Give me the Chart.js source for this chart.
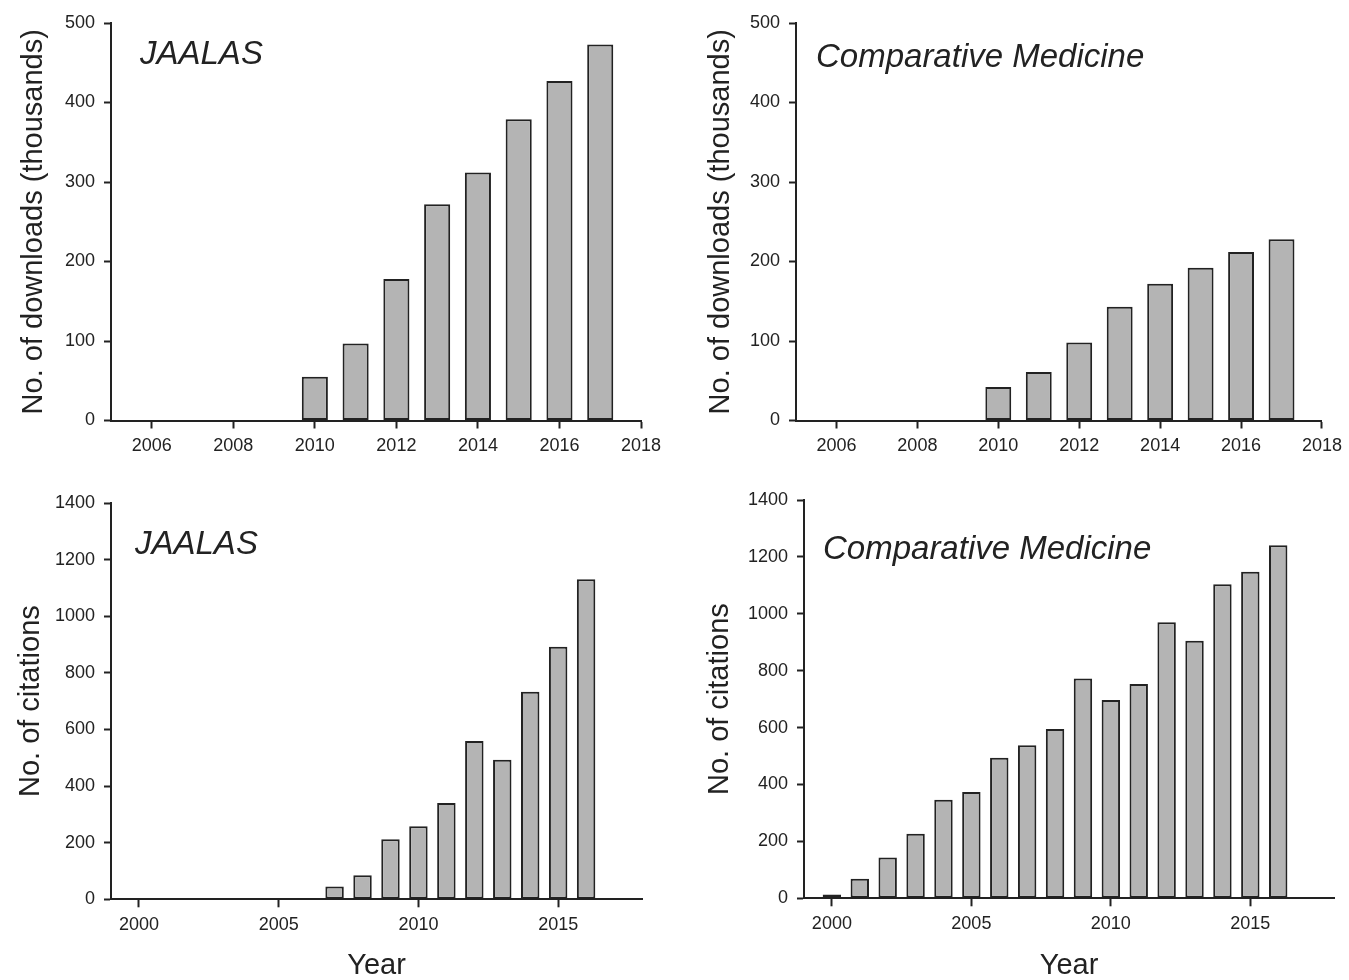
<!DOCTYPE html>
<html>
<head>
<meta charset="utf-8">
<script src="https://cdn.jsdelivr.net/npm/chart.js@4.4.1/dist/chart.umd.min.js"></script>
<style>
  body { margin: 0; background: #fff; }
  #wrap { position: relative; width: 1349px; height: 980px; }
  canvas { position: absolute; }
</style>
</head>
<body>
<div id="wrap">
  <canvas id="c1"></canvas>
  <canvas id="c2"></canvas>
  <canvas id="c3"></canvas>
  <canvas id="c4"></canvas>
</div>
<script>
// downloads (thousands)
var dlYearsJaalas = [2010, 2011, 2012, 2013, 2014, 2015, 2016, 2017];
var dlJaalas = [55, 97, 178, 272, 312, 379, 427, 473];
var dlYearsCM = [2010, 2011, 2012, 2013, 2014, 2015, 2016, 2017];
var dlCM = [42, 61, 98, 143, 172, 192, 212, 228];

// citations
var citeYearsJaalas = [2006, 2007, 2008, 2009, 2010, 2011, 2012, 2013, 2014, 2015, 2016];
var citeJaalas = [5, 45, 85, 212, 258, 340, 559, 493, 733, 892, 1131];
var citeYearsCM = [2000, 2001, 2002, 2003, 2004, 2005, 2006, 2007, 2008, 2009, 2010, 2011, 2012, 2013, 2014, 2015, 2016];
var citeCM = [13, 69, 143, 227, 346, 374, 494, 538, 595, 773, 697, 753, 970, 905, 1104, 1148, 1241];

var dlTitle = "No. of downloads (thousands)";
var citeTitle = "No. of citations";
var xTitle = "Year";

var ink = '#222';
var font = "'Liberation Sans', Arial, sans-serif";

// small plugin: italic journal name inside the plot
var panelLabel = {
    id: 'panelLabel',
    afterDraw: function (chart, args, opts) {
        var ctx = chart.ctx;
        var a = chart.chartArea;
        ctx.save();
        ctx.font = 'italic 33px ' + font;
        ctx.fillStyle = ink;
        ctx.textBaseline = 'middle';
        ctx.fillText(opts.text, a.left + opts.dx, a.top + opts.dy);
        ctx.restore();
    }
};

function plain(v) { return String(v); }

function makePanel(id, box, years, values, name, yTitle, yMax, yStep, xMin, xStep, showYear) {
    var cv = document.getElementById(id);
    cv.width = box.w; cv.height = box.h;
    cv.style.left = box.x + 'px'; cv.style.top = box.y + 'px';

    var pts = years.map(function (y, i) { return { x: y, y: values[i] }; });

    return new Chart(cv, {
        type: 'bar',
        data: {
            datasets: [{
                data: pts,
                backgroundColor: '#b4b4b4',
                borderColor: ink,
                borderWidth: 2,
                borderSkipped: false,
                barPercentage: box.bp,
                categoryPercentage: 1
            }]
        },
        plugins: [panelLabel],
        options: {
            responsive: false,
            animation: false,
            devicePixelRatio: 1,
            layout: { padding: { left: 0, top: box.pt, right: box.pr, bottom: 0 } },
            plugins: {
                legend: { display: false },
                tooltip: { enabled: false },
                panelLabel: { text: name, dx: box.lx, dy: box.ly }
            },
            scales: {
                x: {
                    type: 'linear',
                    offset: false,
                    min: xMin,
                    max: 2018,
                    z: 1,
                    grid: { offset: false, drawOnChartArea: false, tickLength: 8, tickColor: ink, tickWidth: 2 },
                    border: { color: ink, width: 2 },
                    ticks: {
                        stepSize: xStep,
                        includeBounds: false,
                        padding: 7,
                        color: ink,
                        font: { family: font, size: 18 },
                        callback: plain
                    },
                    title: {
                        display: showYear,
                        text: xTitle,
                        color: ink,
                        font: { family: font, size: 29, lineHeight: 1 },
                        padding: { top: 0, bottom: 0 }
                    },
                    afterFit: function (s) { s.height = box.xh; }
                },
                y: {
                    min: 0,
                    max: yMax,
                    z: 1,
                    grid: { drawOnChartArea: false, tickLength: 7, tickColor: ink, tickWidth: 2 },
                    border: { color: ink, width: 2 },
                    ticks: {
                        stepSize: yStep,
                        padding: 9,
                        color: ink,
                        font: { family: font, size: 18 },
                        callback: plain
                    },
                    title: {
                        display: true,
                        text: yTitle,
                        color: ink,
                        font: { family: font, size: 29, lineHeight: 1 },
                        padding: { top: box.tx, bottom: 0 }
                    },
                    afterFit: function (s) { s.width = box.yw; }
                }
            }
        }
    });
}

makePanel('c1', { x: 0, y: 0, w: 680, h: 480, pt: 23, pr: 39, xh: 59.5, yw: 111, tx: 19, lx: 29, ly: 32, bp: 0.64 },
    dlYearsJaalas, dlJaalas, 'JAALAS', dlTitle, 500, 100, 2005, 2, false);
makePanel('c2', { x: 680, y: 0, w: 669, h: 480, pt: 23, pr: 23, xh: 59.5, yw: 116, tx: 26, lx: 20, ly: 35, bp: 0.64 },
    dlYearsCM, dlCM, 'Comparative Medicine', dlTitle, 500, 100, 2005, 2, false);
makePanel('c3', { x: 0, y: 480, w: 680, h: 500, pt: 23, pr: 38, xh: 80.7, yw: 111, tx: 16, lx: 24, ly: 42, bp: 0.66 },
    citeYearsJaalas, citeJaalas, 'JAALAS', citeTitle, 1400, 200, 1999, 5, true);
makePanel('c4', { x: 680, y: 480, w: 669, h: 500, pt: 20, pr: 15, xh: 81.7, yw: 124, tx: 25, lx: 19, ly: 50, bp: 0.66 },
    citeYearsCM, citeCM, 'Comparative Medicine', citeTitle, 1400, 200, 1999, 5, true);
</script>
</body>
</html>
